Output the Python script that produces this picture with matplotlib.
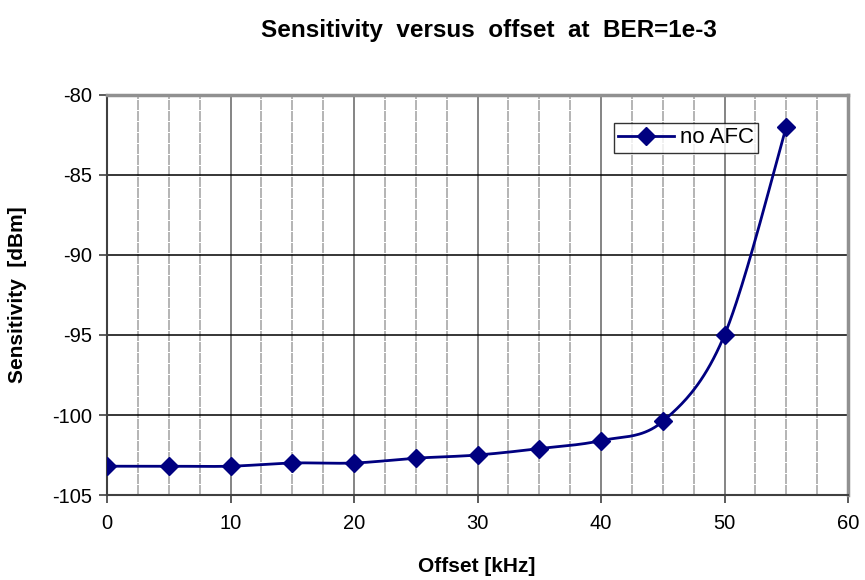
import matplotlib
matplotlib.use('Agg')

import matplotlib.pyplot as plt
import numpy as np
from matplotlib.ticker import MultipleLocator

# values
offset_khz = [0, 5, 10, 15, 20, 25, 30, 35, 40, 45, 50, 55]
sens_no_afc = [-103.2, -103.2, -103.2, -103.0, -103.0, -102.7, -102.5, -102.1, -101.6, -100.4, -95.0, -82.0]
series_label = 'no AFC'
title = 'Sensitivity  versus  offset  at  BER=1e-3'
xlabel = 'Offset [kHz]'
ylabel = 'Sensitivity  [dBm]'

NAVY = '#000080'
FONT = 'Liberation Sans'


def smooth_curve(xs, ys, n=40):
    # Excel-like smoothed line: Catmull-Rom bezier segments
    p = np.column_stack([xs, ys]).astype(float)
    p_ext = np.vstack([p[0], p, p[-1]])
    out = []
    t = np.linspace(0, 1, n)[:, None]
    for i in range(1, len(p_ext) - 2):
        p0, p1, p2, p3 = p_ext[i - 1], p_ext[i], p_ext[i + 1], p_ext[i + 2]
        c1 = p1 + (p2 - p0) / 6.0
        c2 = p2 - (p3 - p1) / 6.0
        seg = ((1 - t) ** 3) * p1 + 3 * ((1 - t) ** 2) * t * c1 + 3 * (1 - t) * t ** 2 * c2 + t ** 3 * p2
        out.append(seg if i == 1 else seg[1:])
    out = np.vstack(out)
    return out[:, 0], out[:, 1]


plt.rcParams['font.family'] = [FONT, 'DejaVu Sans']

fig = plt.figure(figsize=(8.65, 5.8), dpi=100)
ax = fig.add_axes([107 / 865, 1 - 495 / 580, (848 - 107) / 865, (495 - 95) / 580])

ax.set_xlim(0, 60)
ax.set_ylim(-105, -80)
ax.xaxis.set_major_locator(MultipleLocator(10))
ax.xaxis.set_minor_locator(MultipleLocator(2.5))
ax.set_yticks([-105, -100, -95, -90, -85, -80])
ax.set_yticklabels(['-105', '-100', '-95', '-90', '-85', '-80'])

# grid
for xv in np.arange(2.5, 60, 2.5):
    if xv % 10 == 0:
        ax.axvline(xv, color='#707070', lw=1.2, zorder=1)
    else:
        ax.axvline(xv, color='#a8a8a8', lw=1.2, ls=(0, (6, 0.6)), zorder=1)
for yv in np.arange(-100, -80, 5):
    ax.axhline(yv, color='black', lw=1.1, zorder=1)

sx, sy = smooth_curve(offset_khz, sens_no_afc)
ax.plot(sx, sy, color=NAVY, lw=2, zorder=3)
ax.plot(offset_khz, sens_no_afc, ls='none', marker='D', ms=9, color=NAVY, zorder=4)
ax.plot([], [], color=NAVY, lw=2, marker='D', ms=9, label=series_label)

for side in ['top', 'right']:
    ax.spines[side].set_color('#909090')
    ax.spines[side].set_linewidth(2.5)
for side in ['left', 'bottom']:
    ax.spines[side].set_color('#404040')
    ax.spines[side].set_linewidth(1.5)

ax.tick_params(axis='both', which='major', direction='out', length=6, width=1.2,
               color='#404040', labelsize=14.5, pad=5)
ax.tick_params(axis='x', which='minor', length=0)
ax.tick_params(axis='x', pad=8)

leg = ax.legend(loc='upper left', bbox_to_anchor=((614 - 107) / 741, 1 - (123 - 95) / 400),
                frameon=True, fancybox=False, fontsize=16, borderpad=0.2,
                handlelength=2.5, handletextpad=0.25, borderaxespad=0)
leg.get_frame().set_edgecolor('black')
leg.get_frame().set_linewidth(1)

fig.text(489 / 865, 1 - 31 / 580, title, ha='center', va='center', fontsize=17.5, fontweight='bold')
fig.text(477 / 865, 1 - 566 / 580, xlabel, ha='center', va='center', fontsize=15, fontweight='bold')
fig.text(18 / 865, 1 - 295 / 580, ylabel, ha='center', va='center', fontsize=15, fontweight='bold', rotation=90)

fig.savefig('out.png', dpi=100, facecolor='white')
